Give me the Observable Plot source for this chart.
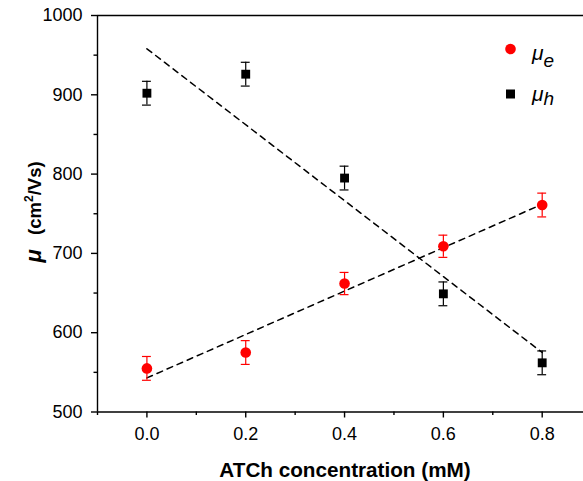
<!DOCTYPE html>
<html><head><meta charset="utf-8">
<script src="https://cdn.jsdelivr.net/npm/d3@7"></script>
<script src="https://cdn.jsdelivr.net/npm/@observablehq/plot@0.6"></script>
<style>
body{margin:0;background:#fff;font-family:"Liberation Sans",Arial,sans-serif;}
#wrap{position:relative;width:583px;height:481px;overflow:hidden}
svg{font-family:"Liberation Sans",Arial,sans-serif;}
</style></head><body><div id="wrap"></div>
<script>
const conc = [0.0, 0.2, 0.4, 0.6, 0.8];
const muE = [555, 575, 662, 709, 761];
const errE = [15, 15, 14, 14, 15];
const muH = [902, 926, 795, 649, 562];
const errH = [15, 15, 15, 15, 15];
const fitE = [[0, 543], [0.8, 762]];
const fitH = [[0, 958], [0.8, 575]];
const xTicks = [0, 0.2, 0.4, 0.6, 0.8];
const xMinor = [-0.1, 0.1, 0.3, 0.5, 0.7];
const yTicks = [500, 600, 700, 800, 900, 1000];
const yMinor = [550, 650, 750, 850, 950];
const capHalf = 0.009;

const rowsE = conc.map((c, i) => ({c, v: muE[i], lo: muE[i] - errE[i], hi: muE[i] + errE[i]}));
const rowsH = conc.map((c, i) => ({c, v: muH[i], lo: muH[i] - errH[i], hi: muH[i] + errH[i]}));
const fitRows = (f) => f.map(([x, y]) => ({x, y}));

const caps = (rows) => rows.flatMap(r => [
  {x1: r.c - capHalf, x2: r.c + capHalf, y: r.lo},
  {x1: r.c - capHalf, x2: r.c + capHalf, y: r.hi}
]);

const sw = 1.4;
const chart = Plot.plot({
  width: 583,
  height: 481,
  marginTop: 15,
  marginBottom: 69.5,
  marginLeft: 97,
  marginRight: 0,
  x: {domain: [-0.1, 0.8836]},
  y: {domain: [500, 1000]},
  style: {fontFamily: '"Liberation Sans", Arial, sans-serif', fontSize: "18px", background: "#fff", color: "#000"},
  marks: [
    Plot.line(fitRows(fitE), {x: "x", y: "y", stroke: "#000", strokeWidth: 1.5, strokeDasharray: "6,5"}),
    Plot.line(fitRows(fitH), {x: "x", y: "y", stroke: "#000", strokeWidth: 1.5, strokeDasharray: "6,5"}),
    Plot.ruleX(rowsE, {x: "c", y1: "lo", y2: "hi", stroke: "#ff0000", strokeWidth: 1.2}),
    Plot.ruleY(caps(rowsE), {x1: "x1", x2: "x2", y: "y", stroke: "#ff0000", strokeWidth: 1.2}),
    Plot.ruleX(rowsH, {x: "c", y1: "lo", y2: "hi", stroke: "#000", strokeWidth: 1.2}),
    Plot.ruleY(caps(rowsH), {x1: "x1", x2: "x2", y: "y", stroke: "#000", strokeWidth: 1.2}),
    Plot.dot(rowsE, {x: "c", y: "v", r: 5.3, fill: "#ff0000", stroke: "none", symbol: "circle"}),
    Plot.dot(rowsH, {x: "c", y: "v", r: 5, fill: "#000", stroke: "none", symbol: "square"}),
    Plot.ruleY([500], {stroke: "#000", strokeWidth: sw}),
    Plot.ruleY([1000], {stroke: "#000", strokeWidth: sw}),
    Plot.ruleX([-0.1], {stroke: "#000", strokeWidth: sw}),
    Plot.axisX(xTicks, {tickSize: 6, tickPadding: 9, fontSize: 18, tickFormat: d3.format(".1f"), label: null, strokeWidth: sw}),
    Plot.axisX(xMinor, {tickSize: 3.5, tickFormat: () => "", label: null, strokeWidth: sw}),
    Plot.axisY(yTicks, {tickSize: 6, tickPadding: 9, fontSize: 18, tickFormat: d3.format("d"), label: null, strokeWidth: sw}),
    Plot.axisY(yMinor, {tickSize: 3.5, tickFormat: () => "", label: null, strokeWidth: sw})
  ]
});
document.getElementById("wrap").appendChild(chart);

const svg = d3.select(chart);
// x title
svg.append("text").attr("x", 345).attr("y", 477).attr("text-anchor", "middle")
  .style("font-weight", "bold").style("font-size", "20.7px").attr("fill", "#000")
  .text("ATCh concentration (mM)");
// y title
const yt = svg.append("text").attr("transform", "translate(41,212) rotate(-90)")
  .attr("text-anchor", "middle").style("font-weight", "bold").style("font-size", "18.5px").attr("fill", "#000");
yt.append("tspan").style("font-style", "italic").style("font-size", "22px").text("μ");
yt.append("tspan").text("\u2002 (cm");
yt.append("tspan").style("font-size", "12px").attr("dy", -8).text("2");
yt.append("tspan").attr("dy", 8).text("/Vs)");
// legend
const lg = svg.append("g").attr("text-anchor", "start");
lg.append("circle").attr("cx", 510.5).attr("cy", 49).attr("r", 5.3).attr("fill", "#ff0000");
lg.append("rect").attr("x", 506).attr("y", 89.5).attr("width", 9).attr("height", 9).attr("fill", "#000");
const l1 = lg.append("text").attr("x", 532).attr("y", 60).attr("text-anchor", "start").style("font-style", "italic").style("font-size", "21px").attr("fill", "#000");
l1.append("tspan").text("μ");
l1.append("tspan").style("font-size", "19px").attr("dy", 7).text("e");
const l2 = lg.append("text").attr("x", 532).attr("y", 101).attr("text-anchor", "start").style("font-style", "italic").style("font-size", "21px").attr("fill", "#000");
l2.append("tspan").text("μ");
l2.append("tspan").style("font-size", "19px").attr("dy", 4).text("h");
</script></body></html>
